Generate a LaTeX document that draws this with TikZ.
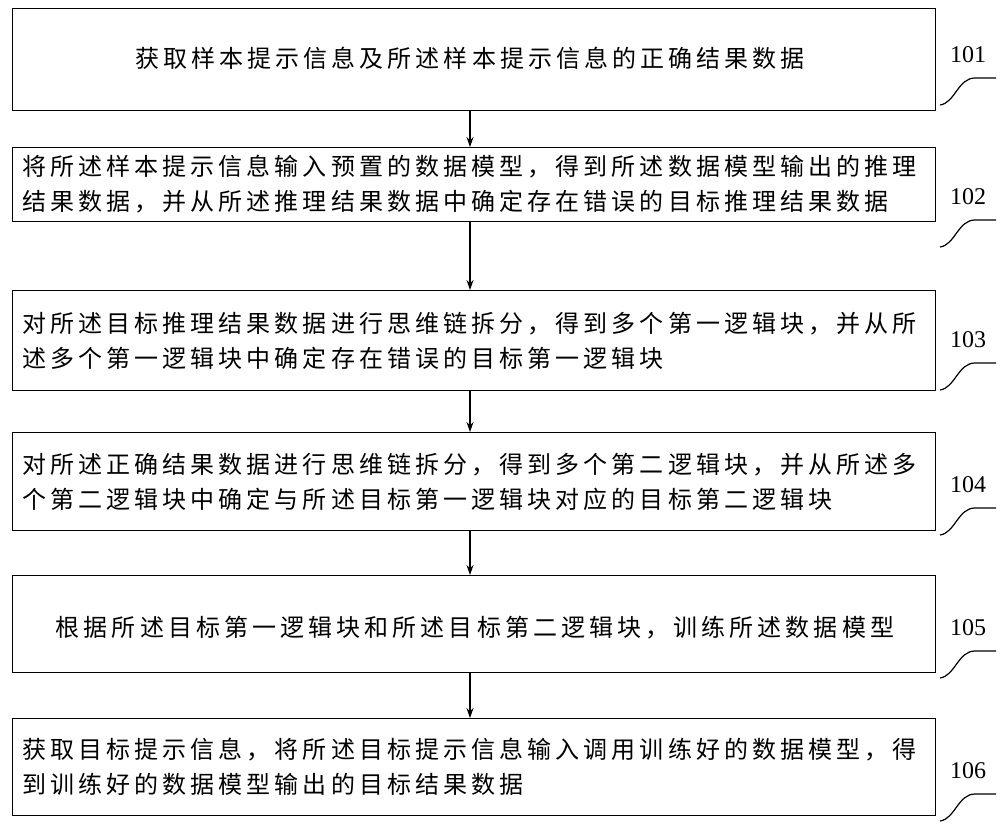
\documentclass[tikz,border=0pt]{standalone}
\usepackage{fontspec}
\setmainfont{Liberation Serif}
\newfontfamily\cjk[LetterSpace=17]{Noto Sans CJK SC}
\usetikzlibrary{arrows.meta}
\begin{document}
\begin{tikzpicture}[x=1pt,y=-1pt,
  stepbox/.style={draw,line width=1.2pt,minimum width=923pt,anchor=north west,inner sep=0pt},
  txt/.style={font=\cjk\fontsize{24}{35}\selectfont,align=left,inner sep=0pt},
  lab/.style={font=\fontsize{24}{24}\selectfont,inner sep=0pt},
  arr/.style={-{Stealth[length=10pt,width=7pt]},line width=1.2pt},
  lead/.style={line width=1.2pt}]
\useasboundingbox (0,0) rectangle (1000,826);
\node[stepbox,minimum height=102pt] (b1) at (12,8) {};
\node[stepbox,minimum height=74pt] (b2) at (12,147) {};
\node[stepbox,minimum height=100pt] (b3) at (12,290) {};
\node[stepbox,minimum height=98pt] (b4) at (12,432) {};
\node[stepbox,minimum height=97pt] (b5) at (12,575) {};
\node[stepbox,minimum height=97pt] (b6) at (12,718) {};
\node[txt] (t1) at (470,58) {获取样本提示信息及所述样本提示信息的正确结果数据};
\node[txt,anchor=west] (t2) at (22,184) {将所述样本提示信息输入预置的数据模型，得到所述数据模型输出的推理\\结果数据，并从所述推理结果数据中确定存在错误的目标推理结果数据};
\node[txt,anchor=west] (t3) at (22,341) {对所述目标推理结果数据进行思维链拆分，得到多个第一逻辑块，并从所\\述多个第一逻辑块中确定存在错误的目标第一逻辑块};
\node[txt,anchor=west] (t4) at (22,482) {对所述正确结果数据进行思维链拆分，得到多个第二逻辑块，并从所述多\\个第二逻辑块中确定与所述目标第一逻辑块对应的目标第二逻辑块};
\node[txt] (t5) at (475,628) {根据所述目标第一逻辑块和所述目标第二逻辑块，训练所述数据模型};
\node[txt,anchor=west] (t6) at (22,767) {获取目标提示信息，将所述目标提示信息输入调用训练好的数据模型，得\\到训练好的数据模型输出的目标结果数据};
\foreach \a/\b in {b1/b2,b2/b3,b3/b4,b4/b5,b5/b6}
  \draw[arr] (\a.south -| 470,0) -- (\b.north -| 470,0);
\foreach \n/\y in {1/55,2/197,3/340,4/485,5/628,6/771}{
  \node[lab] (l\n) at (968,\y) {10\n};
  \coordinate (s\n) at (940,\y+50);
  \coordinate (e\n) at (996,\y+23);
  \draw[lead] (s\n) .. controls (955,\y+48) and (958,\y+23) .. (975,\y+23) -- (e\n);
}
\end{tikzpicture}
\end{document}
